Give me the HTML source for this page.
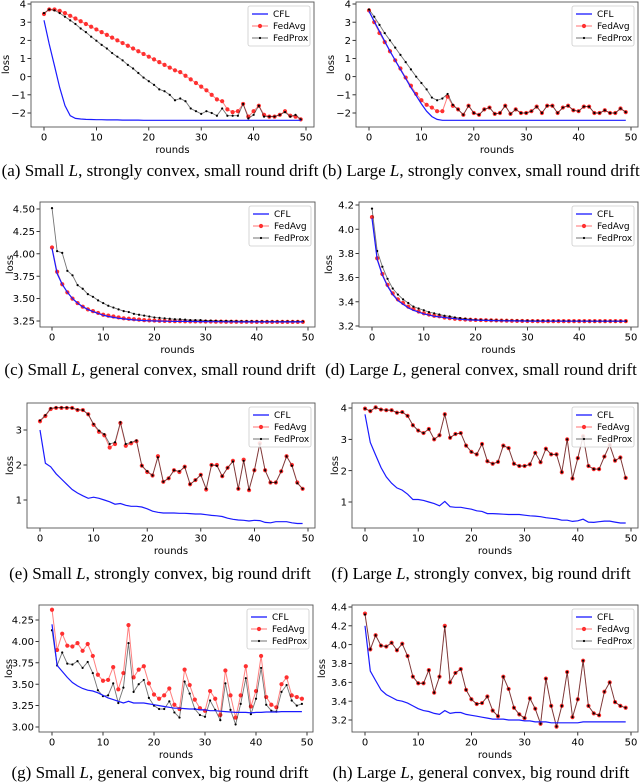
<!DOCTYPE html>
<html><head><meta charset="utf-8"><style>
html,body{margin:0;padding:0;background:#fff;}
svg{display:block;}
text{font-family:"DejaVu Sans","Liberation Sans",sans-serif;}
.cap{font-family:"Liberation Serif",serif;font-size:17px;}
</style></head><body>
<svg id="fig" width="640" height="782" viewBox="0 0 640 782" xmlns="http://www.w3.org/2000/svg"></svg>
<script>
const rounds = Array.from({length:50},(_,i)=>i);
const xTicks = [0,10,20,30,40,50];
const seriesNames = ["CFL","FedAvg","FedProx"];

const aCFL = [3.1,1.8,0.6,-0.6,-1.6,-2.15,-2.3,-2.33,-2.35,-2.36,-2.37,-2.37,-2.38,-2.38,-2.38,-2.39,-2.39,-2.39,-2.39,-2.4,-2.4,-2.4,-2.4,-2.4,-2.4,-2.4,-2.4,-2.4,-2.4,-2.4,-2.4,-2.4,-2.4,-2.4,-2.4,-2.4,-2.4,-2.4,-2.4,-2.4,-2.4,-2.4,-2.4,-2.4,-2.4,-2.4,-2.4,-2.4,-2.4,-2.4];
const aAvg = [3.45,3.7,3.7,3.62,3.5,3.35,3.2,3.05,2.9,2.75,2.6,2.45,2.3,2.15,2.0,1.85,1.7,1.55,1.4,1.25,1.1,0.95,0.8,0.65,0.5,0.35,0.25,0.05,-0.15,-0.35,-0.55,-0.75,-1.0,-1.25,-1.35,-1.8,-1.95,-1.9,-1.5,-2.2,-1.9,-1.6,-2.1,-2.2,-2.2,-2.1,-1.9,-2.15,-2.2,-2.35];
const aProx = [3.5,3.7,3.65,3.5,3.3,3.1,2.9,2.65,2.45,2.2,1.98,1.75,1.55,1.3,1.1,0.9,0.65,0.45,0.2,-0.05,-0.25,-0.45,-0.7,-0.8,-1.0,-1.3,-1.2,-1.35,-1.75,-1.9,-2.05,-1.9,-2.0,-2.15,-1.75,-2.15,-2.15,-2.15,-1.5,-2.3,-2.1,-1.6,-2.2,-2.2,-2.2,-2.1,-1.95,-2.2,-2.1,-2.35];

const bCFL = [3.6,3.05,2.5,1.95,1.4,0.9,0.4,-0.1,-0.6,-1.05,-1.5,-1.9,-2.2,-2.35,-2.4,-2.4,-2.4,-2.4,-2.4,-2.4,-2.4,-2.4,-2.4,-2.4,-2.4,-2.4,-2.4,-2.4,-2.4,-2.4,-2.4,-2.4,-2.4,-2.4,-2.4,-2.4,-2.4,-2.4,-2.4,-2.4,-2.4,-2.4,-2.4,-2.4,-2.4,-2.4,-2.4,-2.4,-2.4,-2.4];
const bAvg = [3.65,3.0,2.4,1.9,1.4,0.9,0.45,-0.05,-0.5,-0.95,-1.3,-1.55,-1.7,-1.9,-1.9,-1.1,-1.6,-1.8,-2.1,-1.6,-2.0,-2.1,-1.8,-1.7,-2.05,-2.0,-1.6,-2.05,-1.8,-2.0,-2.0,-1.9,-1.65,-2.0,-1.6,-1.6,-2.0,-1.7,-1.6,-1.85,-1.9,-1.65,-1.65,-2.0,-2.0,-1.85,-2.0,-2.0,-1.75,-1.95];
const bProx = [3.7,3.3,2.85,2.4,2.0,1.6,1.2,0.8,0.4,0.0,-0.35,-0.7,-1.15,-1.3,-1.2,-0.95,-1.55,-1.8,-2.1,-1.6,-2.0,-2.1,-1.8,-1.7,-2.05,-2.0,-1.6,-2.05,-1.8,-2.0,-2.0,-1.9,-1.65,-2.0,-1.6,-1.6,-2.0,-1.7,-1.6,-1.85,-1.9,-1.65,-1.65,-2.0,-2.0,-1.85,-2.0,-2.0,-1.75,-1.95];

const cCFL = [4.06,3.78,3.66,3.57,3.5,3.45,3.41,3.38,3.355,3.335,3.315,3.3,3.29,3.28,3.273,3.267,3.262,3.258,3.255,3.252,3.25,3.249,3.248,3.247,3.246,3.245,3.245,3.244,3.244,3.243,3.243,3.242,3.242,3.242,3.241,3.241,3.241,3.24,3.24,3.24,3.24,3.24,3.24,3.24,3.24,3.24,3.24,3.24,3.24,3.24];
const cAvg = [4.07,3.8,3.66,3.57,3.5,3.45,3.41,3.38,3.36,3.34,3.32,3.31,3.3,3.29,3.28,3.275,3.27,3.265,3.26,3.257,3.255,3.253,3.251,3.25,3.249,3.248,3.247,3.246,3.245,3.245,3.244,3.244,3.243,3.243,3.242,3.242,3.242,3.241,3.241,3.241,3.24,3.24,3.24,3.24,3.24,3.24,3.24,3.24,3.24,3.24];
const cProx = [4.51,4.03,4.01,3.81,3.76,3.65,3.61,3.55,3.52,3.48,3.45,3.42,3.40,3.38,3.36,3.35,3.33,3.32,3.31,3.30,3.29,3.285,3.28,3.275,3.27,3.27,3.265,3.26,3.26,3.26,3.255,3.255,3.252,3.25,3.25,3.25,3.248,3.248,3.247,3.247,3.246,3.246,3.245,3.245,3.245,3.245,3.245,3.245,3.245,3.245];

const dCFL = [4.09,3.75,3.62,3.53,3.46,3.41,3.38,3.35,3.33,3.315,3.3,3.29,3.28,3.275,3.27,3.265,3.26,3.255,3.252,3.25,3.248,3.247,3.246,3.245,3.244,3.243,3.242,3.242,3.241,3.241,3.24,3.24,3.24,3.24,3.24,3.24,3.24,3.24,3.24,3.24,3.24,3.24,3.24,3.24,3.24,3.24,3.24,3.24,3.24,3.24];
const dAvg = [4.1,3.76,3.63,3.54,3.47,3.42,3.39,3.36,3.34,3.32,3.305,3.295,3.285,3.28,3.27,3.265,3.26,3.257,3.254,3.252,3.25,3.249,3.248,3.247,3.246,3.245,3.244,3.243,3.242,3.242,3.241,3.241,3.24,3.24,3.24,3.24,3.24,3.24,3.24,3.24,3.24,3.24,3.24,3.24,3.24,3.24,3.24,3.24,3.24,3.24];
const dProx = [4.17,3.82,3.69,3.59,3.51,3.46,3.42,3.39,3.36,3.345,3.33,3.315,3.305,3.295,3.285,3.28,3.27,3.265,3.26,3.255,3.252,3.25,3.249,3.248,3.247,3.246,3.246,3.245,3.245,3.244,3.244,3.243,3.243,3.243,3.242,3.242,3.242,3.242,3.241,3.241,3.241,3.241,3.24,3.24,3.24,3.24,3.24,3.24,3.24,3.24];

const eCFL = [3.0,2.05,1.95,1.75,1.6,1.45,1.3,1.2,1.12,1.05,1.08,1.05,1.0,0.95,0.88,0.9,0.85,0.82,0.82,0.8,0.75,0.68,0.65,0.63,0.63,0.63,0.62,0.62,0.61,0.6,0.6,0.58,0.56,0.55,0.53,0.48,0.45,0.43,0.42,0.4,0.42,0.41,0.36,0.35,0.38,0.38,0.38,0.35,0.33,0.33];
const eAvg = [3.25,3.4,3.6,3.63,3.63,3.63,3.63,3.57,3.57,3.45,3.15,2.95,2.85,2.5,2.6,3.2,2.55,2.62,2.68,1.98,1.8,1.7,2.25,1.52,1.62,1.85,1.8,1.95,1.45,1.57,1.72,1.3,2.0,2.0,1.68,1.92,2.12,1.32,2.15,1.28,1.85,2.62,1.85,1.5,1.5,1.82,2.25,2.0,1.5,1.32];
const eProx = [3.27,3.42,3.62,3.64,3.64,3.64,3.63,3.58,3.57,3.45,3.17,2.98,2.88,2.6,2.65,3.22,2.6,2.65,2.7,1.98,1.82,1.7,2.22,1.52,1.62,1.85,1.82,1.95,1.45,1.57,1.72,1.32,2.0,1.98,1.68,1.92,2.1,1.32,2.12,1.3,1.85,2.6,1.85,1.5,1.5,1.82,2.25,1.98,1.48,1.32];

const fCFL = [3.8,2.9,2.5,2.1,1.8,1.6,1.45,1.38,1.25,1.08,1.08,1.05,1.0,0.95,0.88,1.02,0.85,0.83,0.83,0.8,0.77,0.72,0.7,0.63,0.63,0.62,0.61,0.6,0.6,0.6,0.58,0.56,0.55,0.53,0.5,0.48,0.46,0.42,0.42,0.38,0.4,0.45,0.36,0.35,0.37,0.39,0.39,0.36,0.33,0.33];
const fAvg = [3.98,3.9,4.02,3.95,3.93,3.93,3.85,3.87,3.75,3.45,3.28,3.2,3.33,3.0,3.13,3.8,3.05,3.17,3.2,2.8,2.6,2.52,2.85,2.3,2.22,2.28,2.8,2.72,2.22,2.15,2.15,2.2,2.57,2.27,2.7,2.52,2.52,1.95,3.0,1.75,2.4,3.1,2.15,2.05,2.05,2.45,2.82,2.32,2.42,1.77];
const fProx = [3.98,3.9,4.02,3.95,3.93,3.93,3.85,3.87,3.75,3.45,3.28,3.2,3.33,3.0,3.13,3.8,3.05,3.17,3.2,2.8,2.6,2.52,2.85,2.3,2.22,2.28,2.8,2.72,2.22,2.15,2.15,2.2,2.57,2.27,2.7,2.52,2.52,1.95,3.0,1.75,2.4,3.1,2.15,2.05,2.05,2.45,2.82,2.32,2.42,1.77];

const gCFL = [4.2,3.72,3.65,3.58,3.52,3.48,3.45,3.43,3.42,3.4,3.37,3.34,3.32,3.3,3.28,3.3,3.28,3.28,3.28,3.27,3.26,3.25,3.24,3.23,3.22,3.22,3.215,3.21,3.21,3.2,3.2,3.19,3.19,3.185,3.18,3.175,3.17,3.17,3.17,3.165,3.17,3.17,3.175,3.175,3.175,3.18,3.18,3.18,3.18,3.18];
const gAvg = [4.37,3.9,4.09,3.95,3.94,3.98,3.89,3.97,3.83,3.61,3.54,3.55,3.7,3.44,3.63,4.19,3.58,3.67,3.71,3.51,3.38,3.33,3.37,3.45,3.26,3.21,3.67,3.49,3.32,3.22,3.19,3.42,3.33,3.14,3.66,3.37,3.11,3.37,3.71,3.24,3.42,3.83,3.35,3.26,3.23,3.5,3.58,3.37,3.35,3.33];
const gProx = [4.13,3.72,3.87,3.74,3.73,3.77,3.69,3.76,3.63,3.43,3.36,3.37,3.51,3.28,3.46,3.98,3.41,3.5,3.55,3.34,3.25,3.21,3.21,3.3,3.17,3.11,3.53,3.39,3.21,3.14,3.12,3.31,3.2,3.08,3.51,3.2,3.03,3.27,3.57,3.15,3.33,3.69,3.26,3.19,3.18,3.41,3.49,3.31,3.25,3.27];

const hCFL = [4.2,3.72,3.62,3.52,3.47,3.44,3.41,3.4,3.38,3.35,3.32,3.3,3.29,3.27,3.26,3.3,3.27,3.28,3.28,3.26,3.25,3.24,3.23,3.22,3.21,3.21,3.21,3.2,3.2,3.2,3.19,3.19,3.18,3.18,3.18,3.17,3.17,3.17,3.17,3.17,3.17,3.18,3.18,3.18,3.18,3.18,3.18,3.18,3.18,3.18];
const hAvg = [4.33,3.95,4.1,3.99,3.98,4.02,3.94,4.01,3.88,3.66,3.59,3.59,3.73,3.49,3.66,4.2,3.6,3.7,3.74,3.52,3.42,3.37,3.38,3.45,3.3,3.24,3.66,3.53,3.33,3.26,3.22,3.43,3.32,3.16,3.64,3.35,3.13,3.35,3.71,3.23,3.42,3.83,3.35,3.27,3.25,3.5,3.6,3.39,3.35,3.33];
const hProx = [4.32,3.95,4.1,3.99,3.98,4.02,3.94,4.01,3.88,3.66,3.59,3.59,3.73,3.49,3.66,4.19,3.6,3.7,3.74,3.52,3.42,3.37,3.38,3.45,3.3,3.24,3.66,3.53,3.33,3.26,3.22,3.43,3.32,3.16,3.64,3.35,3.13,3.35,3.71,3.23,3.42,3.83,3.35,3.27,3.25,3.5,3.6,3.39,3.35,3.33];

const aYTicks = [-2,-1,0,1,2,3,4];
const cYTicks = [3.25,3.5,3.75,4.0,4.25,4.5];
const dYTicks = [3.2,3.4,3.6,3.8,4.0,4.2];
const eYTicks = [1,2,3];
const fYTicks = [1,2,3,4];
const gYTicks = [3.0,3.25,3.5,3.75,4.0,4.25];
const hYTicks = [3.2,3.4,3.6,3.8,4.0,4.2,4.4];

const captionLetters = ["a","b","c","d","e","f","g","h"];

const NS="http://www.w3.org/2000/svg";
const svg=document.getElementById('fig');
function mk(tag,attrs,parent){const e=document.createElementNS(NS,tag);for(const k in attrs)e.setAttribute(k,attrs[k]);(parent||svg).appendChild(e);return e;}

const panels=[
 {id:"a",L:31,R:314,T:2,B:127,x0:44,x50:306,v1:4,p1:4,v2:-2,p2:113,ticks:aYTicks,dec:0,s:[aCFL,aAvg,aProx],cx:160,cy:176,cap:["Small ","strongly convex, small round drift"]},
 {id:"b",L:356,R:638,T:2,B:127,x0:369,x50:631,v1:4,p1:4,v2:-2,p2:113,ticks:aYTicks,dec:0,s:[bCFL,bAvg,bProx],cx:481,cy:176,cap:["Large ","strongly convex, small round drift"]},
 {id:"c",L:40,R:315,T:202,B:327,x0:52,x50:308,v1:4.5,p1:209,v2:3.25,p2:321,ticks:cYTicks,dec:2,s:[cCFL,cAvg,cProx],cx:160,cy:375,cap:["Small ","general convex, small round drift"]},
 {id:"d",L:359,R:638,T:202,B:327,x0:372,x50:631,v1:4.2,p1:205,v2:3.2,p2:326,ticks:dYTicks,dec:1,s:[dCFL,dAvg,dProx],cx:481,cy:375,cap:["Large ","general convex, small round drift"]},
 {id:"e",L:27,R:315,T:403,B:528,x0:40,x50:308,v1:2,p1:465,v2:1,p2:500,ticks:eYTicks,dec:0,s:[eCFL,eAvg,eProx],cx:160,cy:579,cap:["Small ","strongly convex, big round drift"]},
 {id:"f",L:352,R:638,T:403,B:528,x0:365,x50:631,v1:4,p1:408,v2:1,p2:502,ticks:fYTicks,dec:0,s:[fCFL,fAvg,fProx],cx:481,cy:579,cap:["Large ","strongly convex, big round drift"]},
 {id:"g",L:39,R:313,T:605,B:732,x0:52,x50:307,v1:4.25,p1:620,v2:3.0,p2:727,ticks:gYTicks,dec:2,s:[gCFL,gAvg,gProx],cx:160,cy:778,cap:["Small ","general convex, big round drift"]},
 {id:"h",L:352,R:638,T:605,B:732,x0:365,x50:631,v1:4.4,p1:607,v2:3.2,p2:720,ticks:hYTicks,dec:1,s:[hCFL,hAvg,hProx],cx:481,cy:778,cap:["Large ","general convex, big round drift"]}
];

function fmt(v,d){const s=v.toFixed(d);return s.replace('-','\u2212');}

panels.forEach((p,pi)=>{
  const g=mk('g',{});
  
  
  const xs=v=>p.x0+(v-0)*(p.x50-p.x0)/50;
  const ys=v=>p.p1+(v-p.v1)*(p.p2-p.p1)/(p.v2-p.v1);
  xTicks.forEach(t=>{
    const x=xs(t);
    mk('line',{x1:x,x2:x,y1:p.B,y2:p.B+3.5,stroke:'#000','stroke-width':0.8},g);
    const tx=mk('text',{x:x,y:p.B+13.5,'font-size':10,'text-anchor':'middle',fill:'#000'},g);
    tx.textContent=t;
    
    
  });
  p.ticks.forEach(t=>{
    const y=ys(t);
    mk('line',{x1:p.L-3.5,x2:p.L,y1:y,y2:y,stroke:'#000','stroke-width':0.8},g);
    const ty=mk('text',{x:p.L-5,y:y+3.6,'font-size':10,'text-anchor':'end',fill:'#000'},g);
    ty.textContent=fmt(t,p.dec);
    
    
  });
  const xl=mk('text',{x:(p.L+p.R)/2,y:p.B+26,'font-size':10,'text-anchor':'middle'},g);
  xl.textContent='rounds';
  
  
  const lx=p.L-(p.dec===0?(p.id==='a'||p.id==='b'?22:14):27);
  const ly=(p.T+p.B)/2;
  const yl=mk('text',{x:lx,y:ly,'font-size':10,'text-anchor':'middle',transform:`rotate(-90 ${lx} ${ly})`},g);
  yl.textContent='loss';
  
  
  const cp=mk('clipPath',{id:'clip'+p.id},g);
  mk('rect',{x:p.L,y:p.T,width:p.R-p.L,height:p.B-p.T},cp);
  const plot=mk('g',{'clip-path':`url(#clip${p.id})`},g);
  const [cfl,avg,prox]=p.s;
  const pts=arr=>arr.map((v,i)=>xs(rounds[i]).toFixed(1)+','+ys(v).toFixed(1)).join(' ');
  const lAvg=mk('polyline',{points:pts(avg),fill:'none',stroke:'#ff0000','stroke-opacity':0.5,'stroke-width':1},plot);
  
  
  avg.forEach((v,i)=>{
    const c=mk('circle',{cx:xs(rounds[i]),cy:ys(v),r:2.1,fill:'#ff3030'},plot);
    
    
  });
  const lProx=mk('polyline',{points:pts(prox),fill:'none',stroke:'#000','stroke-opacity':0.55,'stroke-width':0.9},plot);
  
  
  prox.forEach((v,i)=>{
    const c=mk('circle',{cx:xs(rounds[i]),cy:ys(v),r:1.1,fill:'#000'},plot);
    
    
  });
  const lC=mk('polyline',{points:pts(cfl),fill:'none',stroke:'#1a1aff','stroke-width':1.2},plot);
  
  
  mk('rect',{x:p.L,y:p.T,width:p.R-p.L,height:p.B-p.T,fill:'none',stroke:'#555','stroke-width':0.9},g);
  const lg=mk('g',{},g);
  
  
  const LW=62,LH=40,Lx=p.R-LW-4,Ly=p.T+4;
  mk('rect',{x:Lx,y:Ly,width:LW,height:LH,rx:2,fill:'#fff','fill-opacity':0.85,stroke:'#ccc','stroke-width':0.8},lg);
  seriesNames.forEach((n,k)=>{
    const yy=Ly+8+k*12;
    const col=k===0?'#1a1aff':(k===1?'#ff0000':'#000');
    mk('line',{x1:Lx+4,x2:Lx+20,y1:yy,y2:yy,stroke:col,'stroke-width':k===0?1.3:1,'stroke-opacity':k===0?1:0.55},lg);
    if(k>0) mk('circle',{cx:Lx+12,cy:yy,r:k===1?2.1:1.1,fill:k===1?'#ff3030':'#000'},lg);
    const t=mk('text',{x:Lx+25,y:yy+3.2,'font-size':9},lg);
    t.textContent=n;
    
    
  });
  const ct=mk('text',{x:p.cx,y:p.cy,'text-anchor':'middle',class:'cap'},g);
  
  
  const s1=mk('tspan',{},ct); s1.textContent='('+captionLetters[pi]+') '+p.cap[0];
  const s2=mk('tspan',{'font-style':'italic'},ct); s2.textContent='L';
  const s3=mk('tspan',{},ct); s3.textContent=', '+p.cap[1];
});
</script>
</body></html>
